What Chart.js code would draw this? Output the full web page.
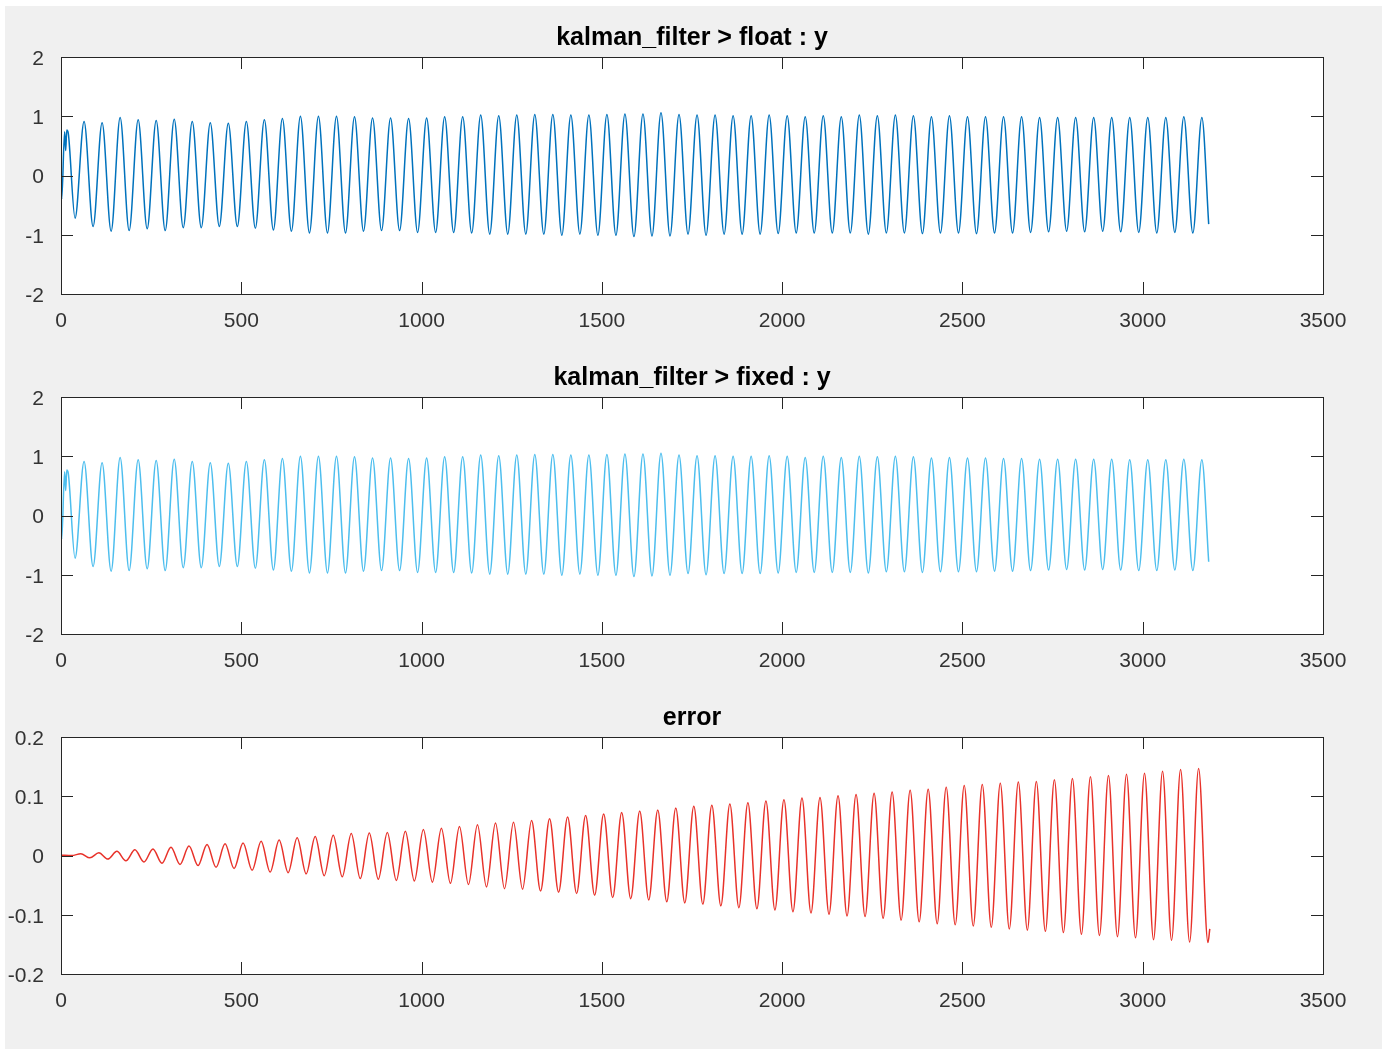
<!DOCTYPE html>
<html>
<head>
<meta charset="utf-8">
<script src="https://cdn.jsdelivr.net/npm/chart.js@4/dist/chart.umd.min.js"></script>
<style>
  body { margin: 0; background: #fff; }
  .figure { position: absolute; left: 5px; top: 6px; width: 1377px; height: 1043px; background: #f0f0f0; }
  canvas { position: absolute; left: 0; }
</style>
</head>
<body>
<div class="figure"></div>
<canvas id="floatChart" width="1384" height="340" style="top:0px"></canvas>
<canvas id="fixedChart" width="1384" height="340" style="top:340px"></canvas>
<canvas id="errorChart" width="1384" height="340" style="top:680px"></canvas>
<script>
// sample index of each read point (start transient, then troughs/peaks every 25 samples)
const sampleX = [
    0, 2, 10, 13, 16, 20,
    39, 64, 89, 114, 139, 164, 189, 214,
    239, 264, 289, 314, 339, 364, 389, 414,
    439, 464, 489, 514, 539, 564, 589, 614,
    639, 664, 689, 714, 739, 764, 789, 814,
    839, 864, 889, 914, 939, 964, 989, 1014,
    1039, 1064, 1089, 1114, 1139, 1164, 1189, 1214,
    1239, 1264, 1289, 1314, 1339, 1364, 1389, 1414,
    1439, 1464, 1489, 1514, 1539, 1564, 1589, 1614,
    1639, 1664, 1689, 1714, 1739, 1764, 1789, 1814,
    1839, 1864, 1889, 1914, 1939, 1964, 1989, 2014,
    2039, 2064, 2089, 2114, 2139, 2164, 2189, 2214,
    2239, 2264, 2289, 2314, 2339, 2364, 2389, 2414,
    2439, 2464, 2489, 2514, 2539, 2564, 2589, 2614,
    2639, 2664, 2689, 2714, 2739, 2764, 2789, 2814,
    2839, 2864, 2889, 2914, 2939, 2964, 2989, 3014,
    3039, 3064, 3089, 3114, 3139, 3164,
    3183
];

const floatY = [
    0.08, -0.40, 0.74, 0.42, 0.77, 0.72,
    -0.72, 0.91, -0.86, 0.89, -0.94, 0.98, -0.93, 0.94,
    -0.90, 0.93, -0.93, 0.95, -0.88, 0.91, -0.88, 0.89,
    -0.86, 0.88, -0.86, 0.91, -0.89, 0.94, -0.92, 0.96,
    -0.94, 1.00, -0.97, 1.00, -0.97, 1.00, -0.97, 0.99,
    -0.94, 0.97, -0.93, 0.97, -0.93, 0.96, -0.96, 0.97,
    -0.96, 0.99, -0.96, 0.99, -0.97, 1.02, -0.99, 1.01,
    -0.99, 1.02, -0.99, 1.03, -0.99, 1.03, -1.01, 1.02,
    -0.99, 1.02, -1.01, 1.03, -1.01, 1.04, -1.03, 1.04,
    -1.02, 1.06, -1.02, 1.03, -0.99, 1.02, -1.01, 1.02,
    -0.99, 1.01, -0.99, 1.01, -0.99, 1.02, -0.98, 1.01,
    -0.97, 0.99, -0.97, 1.01, -0.97, 0.99, -0.97, 1.02,
    -0.99, 1.01, -0.97, 1.02, -0.97, 1.01, -0.98, 0.99,
    -0.97, 1.01, -0.97, 0.99, -0.98, 0.99, -0.97, 0.99,
    -0.97, 0.99, -0.96, 0.98, -0.95, 0.98, -0.94, 0.98,
    -0.95, 0.98, -0.94, 0.98, -0.95, 0.98, -0.96, 0.98,
    -0.97, 0.98, -0.96, 0.99, -0.97, 0.98,
    -0.82
];

const fixedY = [
    0.08, -0.40, 0.74, 0.42, 0.77, 0.72,
    -0.72, 0.91, -0.86, 0.89, -0.94, 0.98, -0.93, 0.94,
    -0.90, 0.93, -0.93, 0.95, -0.88, 0.91, -0.88, 0.89,
    -0.86, 0.88, -0.86, 0.91, -0.89, 0.94, -0.92, 0.96,
    -0.94, 1.00, -0.97, 1.00, -0.97, 1.00, -0.97, 0.99,
    -0.94, 0.97, -0.93, 0.97, -0.93, 0.96, -0.96, 0.97,
    -0.96, 0.99, -0.96, 0.99, -0.97, 1.02, -0.99, 1.01,
    -0.99, 1.02, -0.99, 1.03, -0.99, 1.03, -1.01, 1.02,
    -0.99, 1.02, -1.01, 1.03, -1.01, 1.04, -1.03, 1.04,
    -1.02, 1.05, -1.01, 1.02, -0.98, 1.01, -1.00, 1.01,
    -0.98, 1.00, -0.98, 1.00, -0.98, 1.01, -0.97, 1.00,
    -0.96, 0.98, -0.96, 1.00, -0.96, 0.98, -0.96, 1.00,
    -0.97, 0.99, -0.95, 1.00, -0.95, 0.99, -0.96, 0.97,
    -0.95, 0.98, -0.95, 0.97, -0.95, 0.97, -0.94, 0.96,
    -0.94, 0.96, -0.93, 0.95, -0.92, 0.95, -0.91, 0.95,
    -0.92, 0.95, -0.91, 0.95, -0.92, 0.94, -0.93, 0.94,
    -0.93, 0.94, -0.92, 0.95, -0.93, 0.94,
    -0.78
];

// error trace: peaks at 55+50k, troughs at 80+50k
const errX = [
    0, 30,
    55, 80, 105, 130, 155, 180, 205, 230,
    255, 280, 305, 330, 355, 380, 405, 430,
    455, 480, 505, 530, 555, 580, 605, 630,
    655, 680, 705, 730, 755, 780, 805, 830,
    855, 880, 905, 930, 955, 980, 1005, 1030,
    1055, 1080, 1105, 1130, 1155, 1180, 1205, 1230,
    1255, 1280, 1305, 1330, 1355, 1380, 1405, 1430,
    1455, 1480, 1505, 1530, 1555, 1580, 1605, 1630,
    1655, 1680, 1705, 1730, 1755, 1780, 1805, 1830,
    1855, 1880, 1905, 1930, 1955, 1980, 2005, 2030,
    2055, 2080, 2105, 2130, 2155, 2180, 2205, 2230,
    2255, 2280, 2305, 2330, 2355, 2380, 2405, 2430,
    2455, 2480, 2505, 2530, 2555, 2580, 2605, 2630,
    2655, 2680, 2705, 2730, 2755, 2780, 2805, 2830,
    2855, 2880, 2905, 2930, 2955, 2980, 3005, 3030,
    3055, 3080, 3105, 3130, 3155,
    3181, 3186
];

const errY = [
    0.0005, 0.0,
    0.003, -0.004, 0.0045, -0.006, 0.007, -0.009, 0.0096, -0.011,
    0.011, -0.013, 0.014, -0.015, 0.016, -0.017, 0.0186, -0.020,
    0.0197, -0.022, 0.021, -0.025, 0.024, -0.028, 0.026, -0.029,
    0.030, -0.031, 0.032, -0.034, 0.034, -0.036, 0.037, -0.039,
    0.038, -0.040, 0.039, -0.042, 0.041, -0.043, 0.044, -0.045,
    0.046, -0.047, 0.049, -0.049, 0.052, -0.053, 0.055, -0.056,
    0.056, -0.057, 0.059, -0.060, 0.062, -0.062, 0.065, -0.064,
    0.0675, -0.067, 0.070, -0.071, 0.0726, -0.073, 0.075, -0.075,
    0.077, -0.078, 0.080, -0.080, 0.083, -0.082, 0.085, -0.085,
    0.087, -0.088, 0.089, -0.090, 0.092, -0.092, 0.094, -0.095,
    0.097, -0.097, 0.098, -0.099, 0.101, -0.102, 0.103, -0.103,
    0.105, -0.106, 0.107, -0.109, 0.110, -0.112, 0.112, -0.115,
    0.115, -0.117, 0.118, -0.119, 0.120, -0.121, 0.122, -0.124,
    0.124, -0.126, 0.125, -0.128, 0.128, -0.130, 0.130, -0.133,
    0.133, -0.135, 0.135, -0.137, 0.137, -0.139, 0.139, -0.142,
    0.142, -0.143, 0.145, -0.146, 0.147,
    -0.147, -0.124
];

const xTicks = [0, 3500, 500];
const yTicksSignal = [-2, 2, 1];
const yTicksError = [-0.2, 0.2, 0.1];

const FONT = "'Liberation Sans', Arial, Helvetica, sans-serif";
const AXIS_COLOR = "#262626";

// matlab style: white axes box, ticks pointing inside on all four sides
const matlabAxes = {
    id: "matlabAxes",
    beforeDraw: (chart) => {
        const { ctx, chartArea: a } = chart;
        ctx.save();
        ctx.fillStyle = "#ffffff";
        ctx.fillRect(a.left, a.top, a.right - a.left, a.bottom - a.top);
        ctx.restore();
    },
    afterDraw: (chart) => {
        const { ctx, chartArea: a, scales } = chart;
        const len = 12;
        ctx.save();
        ctx.strokeStyle = AXIS_COLOR;
        ctx.lineWidth = 1;
        ctx.beginPath();
        scales.x.ticks.forEach((t) => {
            const px = Math.round(scales.x.getPixelForValue(t.value)) + 0.5;
            ctx.moveTo(px, a.bottom);
            ctx.lineTo(px, a.bottom - len);
            ctx.moveTo(px, a.top);
            ctx.lineTo(px, a.top + len);
        });
        scales.y.ticks.forEach((t) => {
            const py = Math.round(scales.y.getPixelForValue(t.value)) + 0.5;
            ctx.moveTo(a.left, py);
            ctx.lineTo(a.left + len, py);
            ctx.moveTo(a.right, py);
            ctx.lineTo(a.right - len, py);
        });
        ctx.stroke();
        ctx.strokeRect(Math.round(a.left) + 0.5, Math.round(a.top) + 0.5,
            Math.round(a.right - a.left), Math.round(a.bottom - a.top));
        ctx.restore();
    },
};

function makeChart(id, title, xs, ys, color, yTicks) {
    const points = xs.map((x, i) => ({ x: x, y: ys[i] }));
    return new Chart(document.getElementById(id), {
        type: "line",
        data: {
            datasets: [
                {
                    data: points,
                    borderColor: color,
                    borderWidth: 1.5,
                    pointRadius: 0,
                    fill: false,
                    cubicInterpolationMode: "monotone",
                },
            ],
        },
        options: {
            responsive: false,
            animation: false,
            devicePixelRatio: 1,
            events: [],
            layout: { padding: { left: 0, right: 61, top: 0, bottom: 0 } },
            plugins: {
                legend: { display: false },
                tooltip: { enabled: false },
                title: {
                    display: true,
                    text: title,
                    fullSize: false,
                    color: "#000000",
                    font: { family: FONT, size: 25, weight: "bold", lineHeight: 1.2 },
                    padding: { top: 23, bottom: 4 },
                },
            },
            scales: {
                x: {
                    type: "linear",
                    min: xTicks[0],
                    max: xTicks[1],
                    grid: { display: false },
                    border: { display: false },
                    afterFit: (scale) => {
                        scale.height = 46;
                    },
                    ticks: {
                        stepSize: xTicks[2],
                        autoSkip: false,
                        maxRotation: 0,
                        padding: 7,
                        color: "#333333",
                        font: { family: FONT, size: 21 },
                        callback: (v) => String(v),
                    },
                },
                y: {
                    type: "linear",
                    min: yTicks[0],
                    max: yTicks[1],
                    grid: { display: false },
                    border: { display: false },
                    afterFit: (scale) => {
                        scale.width = 61;
                    },
                    ticks: {
                        stepSize: yTicks[2],
                        autoSkip: false,
                        padding: 9,
                        labelOffset: 2,
                        color: "#333333",
                        font: { family: FONT, size: 21 },
                        callback: (v) => String(Math.round(v * 1000) / 1000),
                    },
                },
            },
        },
        plugins: [matlabAxes],
    });
}

makeChart("floatChart", "kalman_filter > float : y", sampleX, floatY, "#0072bd", yTicksSignal);
makeChart("fixedChart", "kalman_filter > fixed : y", sampleX, fixedY, "#4dbeee", yTicksSignal);
makeChart("errorChart", "error", errX, errY, "#e8322a", yTicksError);
</script>
</body>
</html>
